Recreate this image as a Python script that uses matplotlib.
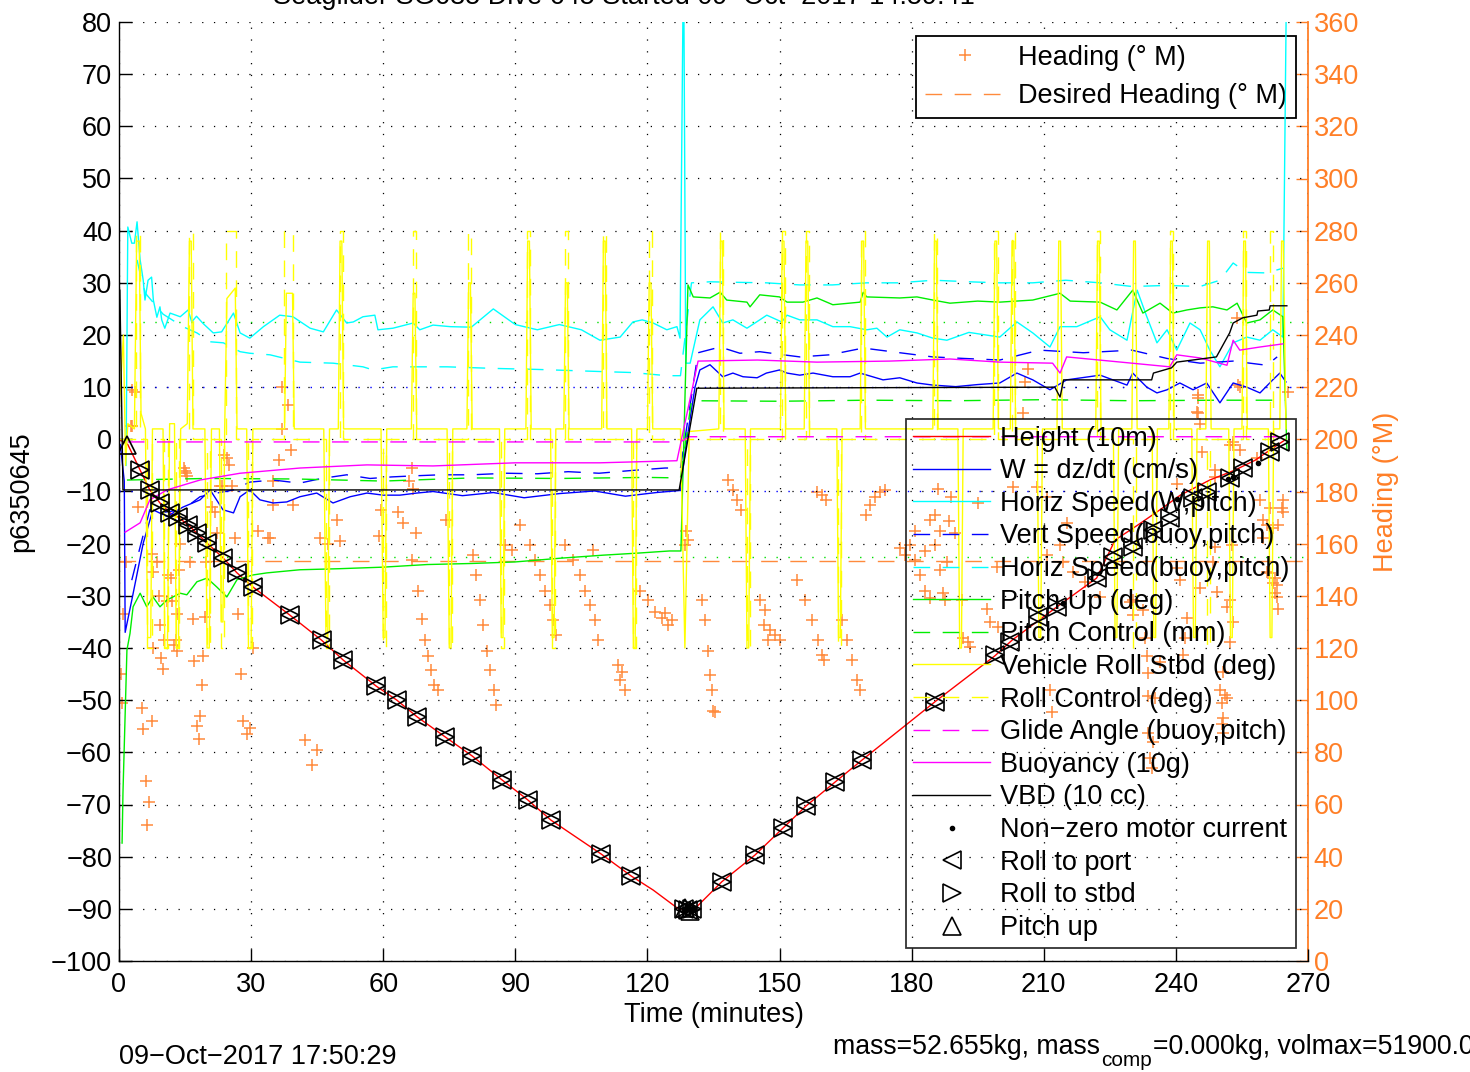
import numpy as np
import matplotlib
matplotlib.use('Agg')
import matplotlib.pyplot as plt
from matplotlib.lines import Line2D

plt.rcParams['font.family'] = ['Liberation Sans', 'DejaVu Sans']
plt.rcParams['lines.scale_dashes'] = False
FS = 19.5

# ---------------- data ----------------
height_t = [0, 1, 2, 4.8, 7.0, 9.3, 11.6, 13.4, 15.7, 17.7, 20, 23.6, 26.8, 30.4, 38.8, 46, 50.9, 58.4, 63.1,
            67.7, 74, 80.2, 87, 92.8, 98.1, 109.5, 116.3, 121.3, 126.7, 128.5, 129.5, 131.2, 136.9, 144.4,
            150.8, 156, 162.6, 168.7, 185.3, 198.9, 202.8, 213, 222, 226.2, 231.4, 236.4, 241, 247.7,
            253.4, 258, 263.2, 265]
height_v = [0, -0.5, -1, -5.9, -9.7, -12.2, -14.1, -14.9, -16.4, -18, -19.9, -22.7, -25.6, -28.3, -33.7,
            -38.5, -42.3, -47.3, -50, -53.2, -57, -60.7, -65.3, -69.1, -73, -79.5, -83.7, -86.4, -89.8,
            -90.2, -90.3, -89.6, -84.8, -79.7, -74.5, -70.3, -65.7, -61.5, -50.3, -41.5, -38.5, -32.1,
            -26.6, -19.3, -16.4, -13.5, -10.7, -7.8, -5.9, -4, -1, 0]

w_t = [0.3, 1.2, 1.4, 3.1, 5.5, 7.7, 10.9, 14.5, 18.4, 20.7, 23.6, 26, 27.5, 29.7, 32, 35, 38.1, 41.1,
       44.9, 48.6, 52.5, 56.3, 60, 63.8, 67.6, 71.3, 78, 85, 92, 100, 108, 115, 122, 127.5, 128.6,
       130.8, 131.9, 134.2, 137.1, 139.4, 141.7, 144.9, 147, 150, 151.7, 154.6, 157.6, 162.1, 166,
       168.3, 173.5, 177.3, 181.2, 184.8, 190, 195, 200, 203.9, 207.5, 211.4, 215.2, 222.8, 228.9,
       230.2, 233.4, 235.7, 238, 240.9, 243.9, 247, 250, 253, 256.1, 259.1, 262, 263.6, 265]
w_v = [-1, -8, -37, -30, -19.9, -13.5, -14.8, -13, -11.6, -9.7, -13.5, -14.1, -11, -9.7, -11.6, -12.2,
       -12, -11, -10.3, -12.2, -11, -10.3, -10.7, -10.7, -10.3, -10, -10.8, -10.2, -11.2, -10.4, -9.9,
       -10.9, -10.2, -9.8, -2, 10, 13.3, 14.3, 12, 12.7, 12, 11.8, 12.7, 13.3, 12.7, 12.3, 12.7, 12, 12,
       12.7, 11.4, 11.8, 10.8, 10.4, 10.1, 10.5, 10.8, 12.7, 11.4, 9.5, 11.4, 12.3, 10.4, 12.7, 10, 8.9,
       9.5, 10.8, 9.5, 10.8, 7, 10.8, 10, 8.9, 11.4, 12.7, 11]

hs_t = [1.6, 2.0, 2.9, 3.5, 4.1, 4.8, 5.5, 5.9, 6.6, 7.4, 7.8, 8.6, 9.3, 9.7, 10.4, 11.6, 13.9, 15.7,
        16.5, 17.6, 19.1, 21.4, 23.3, 26, 27.5, 29.7, 32.8, 36.5, 39.5, 43.4, 46.4, 49.4, 51.7, 53.2,
        55.4, 58.1, 58.8, 62.2, 66.8, 68.3, 71.3, 75.2, 80, 85, 90, 95, 100, 105, 109.2, 113.8, 116.7,
        118.8, 121.3, 124.4, 126.7, 127.4, 128.2, 128.7, 129.7, 131.9, 134.9, 137.1, 139.4, 142.6,
        145.5, 147.1, 150.5, 151.7, 154.6, 158.5, 162.1, 166, 169.8, 172.1, 174.4, 177.3, 181.2,
        184.8, 188, 193, 200, 203.9, 207.5, 211.4, 213.7, 217.5, 222.8, 225, 228.9, 231.2, 233.4,
        235.7, 238, 240.2, 243.2, 245.5, 247.7, 250, 253, 256.1, 259.1, 262, 264.3, 265.2]
hs_v = [-5, 40.7, 37.6, 37.6, 41.7, 34.4, 30.5, 26.7, 30.5, 31.1, 26.7, 23.4, 25.4, 22.9, 21.3, 24.2,
        23.5, 24.8, 22.5, 23.6, 22.2, 20.4, 20.6, 24.2, 20.4, 19.4, 21.6, 23.8, 23.5, 21.3, 20.6, 24.8,
        22.3, 22.5, 23.5, 23.8, 21, 21.3, 22.3, 21, 21.9, 21.6, 21.5, 25, 22, 21, 22, 21, 19, 19.6, 22.5,
        22.9, 22.3, 21, 21.6, 19.4, 95, 14.6, 14.6, 22.9, 25.4, 22.3, 22.9, 21.3, 22.9, 23.8, 22.5,
        23.8, 22.9, 22.9, 21.6, 21.6, 21, 21.3, 19.6, 21, 20.4, 19.4, 19, 20.5, 19.6, 22.5, 20.4, 17.7,
        21.6, 21.6, 23.5, 21, 19, 28.6, 23.5, 18.5, 21, 17.1, 22.3, 21, 17.1, 13.9, 18.5, 19.6, 19, 21,
        19.6, 95]

vsb_t = [2.9, 4.8, 7, 10, 14.5, 18.4, 22.2, 26, 29.7, 35, 41, 46, 51.7, 57, 62, 67, 72.9, 80, 88, 95,
         102, 109, 116, 124, 127.5, 131.5, 136.5, 141, 145.5, 150, 154.6, 161.4, 169, 177.3, 184.8,
         192, 200, 209, 219, 230, 238, 245.5, 253, 260.6, 263]
vsb_v = [-27, -20.6, -13.5, -14, -13.5, -11, -10.3, -9.7, -8.2, -7.8, -8.4, -7.5, -6.8, -7.5, -7.2, -7,
         -6.8, -6.8, -6.5, -6.6, -6.2, -6.5, -6, -5.5, -5.5, 16.6, 17.7, 16.5, 16.8, 16.3, 15.8, 16.2,
         17.5, 16.6, 15.8, 15.5, 15.2, 17.1, 16.6, 17.1, 15.5, 14.6, 15, 14.2, 15.8]

hsb_t = [4.1, 5, 6, 10, 14.5, 17.7, 20.7, 23.7, 27.5, 29.7, 34.3, 41.1, 48.6, 55.4, 57.7, 62.2, 67.6,
         71.3, 74.5, 85, 95, 109.2, 116.7, 124.4, 127.5, 130, 134.2, 140, 147, 154.6, 162, 169.8,
         177, 185, 193, 200, 207.5, 215, 222.8, 230, 238, 245.5, 250, 253, 256, 260.6, 264.3]
hsb_v = [34.4, 31, 28, 24, 21.6, 20.4, 18.7, 18.5, 16.8, 16.5, 16.2, 14.8, 14.6, 13.9, 13.3, 13.9, 13.9,
         13.9, 13.9, 13.6, 13.4, 13, 12.8, 12.2, 12.2, 30, 30.2, 30.1, 30, 29.6, 29.6, 30, 30, 30.5, 30.2,
         30, 30, 30.5, 30, 29.3, 29.5, 29.3, 30.5, 33.8, 32, 31.9, 32.8]

pitch_t = [0.7, 0.9, 1.8, 2.5, 3.2, 4.8, 6.3, 7.7, 9.3, 10.9, 13.9, 15.4, 17.7, 20, 22.2, 24.5, 26.8,
           30.4, 33.6, 41.1, 50, 60, 70, 80, 90, 100, 110, 118, 125, 127.6, 129.2, 130.4, 134.2, 136.5,
           138, 142.6, 143.3, 145.5, 150, 151.7, 155.3, 158.5, 162.1, 168.3, 169, 169.8, 177.3, 181.2,
           184.8, 188.7, 195, 200, 207.5, 213.7, 216, 222.8, 226.6, 230.2, 232.5, 236.4, 239.3, 242.5,
           245.5, 248.4, 251.6, 253.9, 256.1, 259.1, 262, 264.3, 265.2]
pitch_v = [-77.4, -67.8, -40.4, -37.2, -32.1, -29.5, -32.1, -30.2, -32.1, -30.8, -29.5, -29.8, -27.3,
           -26.6, -28.3, -30.2, -26.9, -26, -25.6, -25, -24.8, -24.5, -24, -23.8, -23.5, -22.8, -22.2,
           -21.8, -21.4, -21.4, 29.6, 27.3, 27.1, 28.2, 26.7, 26.3, 25.4, 27.7, 27.3, 26.3, 26.3, 27.1,
           25.8, 26.3, 28.2, 27.3, 27.1, 27.3, 26.7, 26.1, 26.5, 26.3, 26.7, 28, 26.5, 26.3, 24.8, 28.6,
           24.2, 26.1, 24.2, 24.8, 25.2, 25.4, 24.8, 26.1, 22.3, 22.9, 24.8, 23.5, -2]

pctl_t = [1.8, 20, 40, 60, 80, 100, 120, 127.5, 130, 150, 170, 190, 210, 230, 250, 265]
pctl_v = [-7.8, -7.5, -7.6, -8.0, -7.4, -7.5, -7.3, -7.4, 7.4, 7.3, 7.5, 7.4, 7.6, 7.4, 7.5, 7.5]

glide_t = [2, 127.5, 129.5, 265]
glide_v = [-0.5, -0.5, 0.5, 0.5]

buoy_t = [1.4, 4.8, 7, 10.9, 18.4, 27.5, 41.1, 56.3, 71.3, 90, 109.2, 126.7, 131.5, 145, 158.5, 175,
          188.7, 200, 212, 213.7, 215.2, 230, 238.6, 240.2, 245.5, 251.6, 253, 254.5, 259.1, 264.3]
buoy_v = [-17.8, -16, -11.6, -9.7, -7.8, -6.5, -5.5, -4.9, -5.1, -4.5, -4.5, -4.1, 15, 15.2, 14.8, 15,
          15.4, 14.8, 14.6, 12.7, 15.8, 14.6, 13.9, 16.2, 15.6, 14.2, 19, 17.1, 17.7, 18.3]

vbd_t = [0.2, 0.9, 127.2, 131.2, 212.5, 213.7, 214.5, 234.5, 234.9, 239, 240.2, 249.2, 252.2, 253,
         255.2, 258.4, 258.6, 261.2, 261.4, 265.2]
vbd_v = [28.6, -9.7, -9.7, 9.8, 10.0, 8.1, 11.4, 11.4, 12.7, 13.7, 14.8, 15.8, 20.4, 22.3, 23.3, 23.8,
         24.6, 24.8, 25.6, 25.6]

roll_t = [0, 1, 1.5, 2, 3.5, 4, 4.6, 5, 6, 6.5, 7.2, 7.6, 10, 10.4, 11, 11.5, 12.6, 13, 13.5, 14,
          15.5, 16, 16.4, 16.8, 19.5, 20, 20.5, 21, 22.8, 23.2, 23.6, 24, 24.5, 26.4, 26.8, 29, 29.4,
          30, 30.4, 37.6, 38, 39.4, 39.8, 46.5, 47, 47.4, 47.8, 49.8, 50.2, 50.6, 51, 59.5, 60, 60.4,
          60.8, 66.4, 66.8, 67.2, 67.6, 74.5, 75, 75.4, 75.8, 79, 79.4, 79.8, 80.2, 86.4, 86.8, 87.2,
          87.6, 92.4, 92.8, 93.2, 93.6, 98, 98.4, 98.8, 99.2, 101, 101.4, 101.8, 102.2, 109.6, 110,
          110.4, 110.8, 116.4, 116.8, 117.2, 117.6, 120, 120.4, 120.8, 121.2, 127.5, 128.5, 129.5,
          136.2, 136.6, 137, 137.4, 142.2, 142.6, 143, 143.4, 150.2, 150.6, 151, 151.4, 155.6, 156,
          156.4, 156.8, 163, 163.4, 163.8, 164.2, 168.3, 168.7, 169.1, 169.5, 184.8, 185.2, 185.6,
          186, 190.5, 190.9, 191.3, 191.7, 198.5, 198.9, 199.3, 199.7, 202.4, 202.8, 203.2, 203.6,
          208.5, 208.9, 209.3, 209.7, 213, 213.4, 213.8, 214.2, 221.8, 222.2, 222.6, 223, 225.8, 226.2,
          226.6, 227, 230, 230.4, 230.8, 231.2, 234.6, 235, 235.4, 235.8, 238.4, 238.8, 239.2, 239.6,
          243.6, 244, 244.4, 244.8, 246.8, 247.2, 247.6, 248, 252, 252.4, 252.8, 253.2, 255, 255.4,
          255.8, 256.2, 261, 261.4, 261.8, 262.2, 263.6, 264, 264.4, 265]
roll_v = [5, 20, -5, 3, 2, 38, 38, 5, 2, -38, -38, 2, 2, -40, -40, 3, 3, -40, -40, 2, 3, 38, 38, 2, 2,
          -40, -40, 2, 2, -35, -35, 2, 27, 29, 2, 2, -40, -40, 2, 2, 28, 28, 2, 2, -38, -38, 2, 2, 38, 38,
          2, 2, -38, -38, 2, 2, 28, 28, 2, 2, -40, -40, 2, 2, 30, 30, 2, 2, -38, -38, 2, 2, 38, 38, 2, 2,
          -38, -38, 2, 2, 30, 30, 2, 2, 38, 38, 2, 2, -40, -40, 2, 2, 30, 30, 2, 2, -40, 1.5,
          2, 38, 38, 2, 2, -40, -40, 2, 2, 38, 38, 2, 2, 38, 38, 2, 2, -38, -38, 2, 2, 38, 38, 2, 2, 38,
          38, 2, 2, -40, -40, 2, 2, 38, 38, 2, 2, 38, 38, 2, 2, -38, -38, 2, 2, 38, 38, 2, 2, 38, 38, 2,
          2, -38, -38, 2, 2, 38, 38, 2, 2, -38, -38, 2, 2, 38, 38, 2, 2, -38, -38, 2, 2, 38, 38, 2, 2,
          -38, -38, 2, 2, 38, 38, 2, 2, -38, -38, 2, 2, 38, 38, 2]

rctl_t = [0, 3.8, 3.8, 4.8, 4.8, 6.4, 6.4, 7.4, 7.4, 10.3, 10.3, 11.2, 11.2, 12.9, 12.9, 13.7, 13.7,
          15.9, 15.9, 16.7, 16.7, 19.9, 19.9, 20.7, 20.7, 23.1, 23.1, 23.8, 23.8, 24.3, 24.3, 26.5, 26.5,
          29.3, 29.3, 30.2, 30.2, 37.5, 37.5, 39.6, 39.6, 46.9, 46.9, 47.6, 47.6, 50.1, 50.1, 50.8,
          50.8, 59.9, 59.9, 60.6, 60.6, 66.7, 66.7, 67.4, 67.4, 74.9, 74.9, 75.6, 75.6, 79.3, 79.3,
          80, 80, 86.7, 86.7, 87.4, 87.4, 92.7, 92.7, 93.4, 93.4, 98.3, 98.3, 99, 99, 101.3, 101.3,
          102, 102, 109.9, 109.9, 110.6, 110.6, 116.7, 116.7, 117.4, 117.4, 120.3, 120.3, 121, 121,
          136.5, 136.5, 137.2, 137.2, 142.5, 142.5, 143.2, 143.2, 150.5, 150.5, 151.2, 151.2, 155.9,
          155.9, 156.6, 156.6, 163.3, 163.3, 164, 164, 168.6, 168.6, 169.3, 169.3, 185.1, 185.1, 185.8,
          185.8, 198.8, 198.8, 199.5, 199.5, 202.7, 202.7, 203.4, 203.4, 222.1, 222.1, 222.8, 222.8,
          230.3, 230.3, 231, 231, 238.7, 238.7, 239.4, 239.4, 247.1, 247.1, 247.8, 247.8, 255.3, 255.3,
          256, 256, 261.3, 261.3, 262, 262, 265]
rctl_v = [0, 0, 40, 40, 0, 0, -40, -40, 0, 0, -40, -40, 0, 0, -40, -40, 0, 0, 40, 40, 0, 0, -40, -40, 0,
          0, -40, -40, 0, 0, 40, 40, 0, 0, -40, -40, 0, 0, 40, 40, 0, 0, -40, -40, 0, 0, 40, 40, 0, 0,
          -40, -40, 0, 0, 40, 40, 0, 0, -40, -40, 0, 0, 40, 40, 0, 0, -40, -40, 0, 0, 40, 40, 0, 0, -40,
          -40, 0, 0, 40, 40, 0, 0, 40, 40, 0, 0, -40, -40, 0, 0, 40, 40, 0,
          0, 40, 40, 0, 0, -40, -40, 0, 0, 40, 40, 0, 0, 40, 40, 0, 0, -40, -40, 0, 0, 40, 40, 0, 0, 40,
          40, 0, 0, 40, 40, 0, 0, 40, 40, 0, 0, 40, 40, 0, 0, -40, -40, 0, 0, 40, 40, 0, 0, -40, -40, 0,
          0, 40, 40, 0, 0, 40, 40, 0, 0]

motor_t = [128.2, 128.8, 129.4, 130, 130.6, 214.4, 240.2, 251.8, 253, 258.6]
motor_v = [-90, -90.2, -90.1, -90, -89.8, -31.4, -11.5, -7.6, -7.2, -4.5]

rollev_t = [4.8, 7.0, 9.3, 11.6, 13.4, 15.7, 17.7, 20, 23.6, 26.8, 30.4, 38.8, 46, 50.9, 58.4, 63.1,
            67.7, 74, 80.2, 87, 92.8, 98.1, 109.5, 116.3, 128.2, 129.2, 130.2, 136.9, 144.4, 150.8, 156,
            162.6, 168.7, 185.3, 198.9, 202.3, 208.7, 213, 222, 225.8, 230.3, 234.8, 238.6, 243.9, 247,
            252.3, 255.2, 261.4, 263.6]
rollev_v = [-5.9, -9.7, -12.2, -14.1, -14.9, -16.4, -18, -19.9, -22.7, -25.6, -28.3, -33.7, -38.5,
            -42.3, -47.3, -50, -53.2, -57, -60.7, -65.3, -69.1, -73, -79.5, -83.7, -90, -90.2, -90,
            -84.8, -79.7, -74.5, -70.3, -65.7, -61.5, -50.3, -41.3, -38.8, -34, -32.1, -26.6, -22.5,
            -20.6, -17.4, -15.1, -11.2, -10.1, -7.4, -5.5, -2.4, -0.5]

pitchev_t = [1.8, 128.6, 129.6]
pitchev_v = [-1.0, -89.8, -90.4]

desired_heading = 153.5
hd_t = [0.45, 0.7, 0.9, 1.6, 2.7, 2.9, 2.9, 3.6, 4.3, 5.2, 5.5, 7.4, 6.1, 6.8, 6.4, 7.4, 8.6, 7.8, 9.1,
        9.3, 10.2, 7.7, 9.5, 10, 10.9, 12, 11.1, 11.8, 13, 12.5, 13.2, 13.2, 13.6, 16.1, 16.8, 19.5,
        19.1, 17, 18.8, 18.4, 17.7, 18.2, 19.7, 22.2, 21.1, 21.8, 22.9, 25.6, 15, 15.4, 23.9, 24.6, 25,
        23.3, 14.8, 15.2, 13.9, 26.3, 27, 30.5, 27.7, 28.2, 29, 29.7, 33.9, 37, 38.4, 37, 39.1, 36.3,
        35, 34.9, 39.5, 31.6, 34.3, 42.2, 43.8, 45, 49.5, 50.2, 45.7, 47.5, 59, 59.6, 63.4, 64.4, 66.5,
        65.9, 66.8, 67.4, 74.3, 66.5, 67.9, 68.8, 69.5, 70.2, 70.8, 71.5, 72.4, 80.4, 81.1, 82, 82.7,
        83.6, 84.2, 85.1, 85.6, 87.6, 89.2, 91, 93.3, 94.5, 95.6, 96.7, 97.9, 98.5, 99.2, 101.3, 103.1,
        104.7, 105.8, 106.9, 108.1, 108.8, 107.6, 113.3, 114.2, 114.9, 113.8, 118.3, 120.1, 121.7,
        123.3, 124.7, 125.6, 124, 129.2, 128.5, 128.7, 132.4, 133.1, 133.7, 134.2, 134.7, 134.9, 135.3,
        138.3, 139.4, 140.3, 141.2, 145.5, 146.7, 147.8, 149, 150.1, 146.5, 147.4, 154, 155.8, 157.4,
        158.7, 159.6, 160.1, 158.5, 159.6, 160.5, 164.2, 165.3, 166.4, 167.6, 168.3, 169.6, 170.5,
        171.7, 172.8, 173.9, 177.3, 178.5, 179.6, 180.7, 181.9, 183, 184.1, 185.3, 186.4, 187.6, 186,
        189, 185.3, 188.5, 186.4, 189.8, 180.7, 183, 188, 199.4, 184.1, 187.1, 191.4, 197.1, 197.8,
        199.6, 191.7, 192.8, 193.2, 195, 203, 208.4, 210.7, 215.3, 213.7, 210.7, 214.4, 216.6, 219.3,
        222.8, 229.6, 230.3, 233.4, 236.4, 242.5, 245.5, 248.4, 248.9, 252.3, 254.5, 258.4, 261.4,
        264.3, 260.6, 263.2, 260.6, 262, 262.9, 263.2, 253, 251.6, 252.3, 241.6, 211.4, 211.8, 233.7,
        235.2, 250, 251.6, 250.7, 250.5, 233.7, 234.8, 250.7, 234.1, 234.5, 254.5, 245, 244.8, 253,
        246, 248.9, 240.2, 259.1, 264.3, 264, 259.8, 262, 259.8, 252.7, 248.9, 240.2, 240.9, 249.3,
        252.3, 260.9, 262.5, 262.9, 262.5, 230.3, 232.5, 233, 242, 233.7, 250.7, 251.1, 250.5, 206.4,
        205.7, 205.3, 253.9, 254, 245, 245, 245.5, 253, 265.5]
hd_v = [110, 99, 133, 153, 205, 205, 219, 218, 174, 97, 89, 92, 69, 61, 52, 156, 153, 149, 140, 129,
        123, 120, 116, 112, 138, 138, 148, 147, 123, 121, 119, 133, 150, 153, 131, 132, 117, 115, 106,
        94, 90, 85, 153, 164, 174, 172, 182, 182, 188, 186, 194, 193, 190, 182, 189, 187, 160, 162, 133,
        120, 110, 92, 87, 89.5, 162, 220, 213, 204, 196, 192, 184, 175, 175, 165, 162, 84.7, 75, 81, 169,
        161, 162, 160, 163, 173, 172, 168, 189, 184, 181, 164, 169, 153.7, 142, 131, 123, 117, 111.6,
        106, 104, 155.6, 148, 138.4, 129, 119, 111.6, 104, 98, 159.5, 157.6, 167, 159.5, 153.7, 148, 142,
        136.5, 130.7, 125, 159.5, 153.7, 148, 142, 136.5, 130.7, 123, 157.6, 113.5, 110.8, 104, 107.7,
        142, 138.4, 133.8, 131.5, 128.8, 130.7, 133.4, 161.4, 159.5, 165, 138.4, 130.7, 119, 109.6, 104,
        96, 95.5, 184.4, 180.6, 176.7, 173, 138.4, 134.6, 127, 125, 123, 128.8, 123, 146, 138.4, 130.7,
        123, 117.3, 115.4, 179.8, 178.7, 176.7, 130.7, 123, 115.4, 107.7, 104, 171, 174.8, 177.9, 179.8,
        180.6, 158.3, 155.6, 159.5, 153.7, 148, 142, 169, 159.5, 150, 138.4, 181, 178, 171, 168.6, 165,
        164, 165, 157, 153, 151, 139, 141, 138.4, 135, 130, 128, 124, 122.3, 120.4, 175.6, 181.6, 181.9,
        178, 168, 159.5, 155.6, 153, 149, 145.3, 139.6, 137.6, 132.5, 117, 114.6, 131.5, 143, 153,
        185.6, 198, 196, 193, 173.7, 172, 167, 167, 149, 145, 139.6, 135, 130, 135.7, 122.3, 117.3, 104,
        95.5, 101.6, 101, 104, 101, 93, 91, 87.4, 84, 87.4, 78, 74, 220, 217, 210.5, 199, 195, 188.2,
        183, 176.7, 176.7, 173.7, 169, 166, 162, 159.5, 158.7, 150.6, 146, 141.5, 138.4, 148.8, 146.8,
        144, 141, 138.4, 134.6, 124, 124, 110.4, 110.8, 102, 99, 227, 222, 210, 246.5, 221, 216, 210,
        206, 198, 218]

labels_main = ['Height (10m)', 'W = dz/dt (cm/s)', 'Horiz Speed(W,pitch)', 'Vert Speed(buoy,pitch)',
               'Horiz Speed(buoy,pitch)', 'Pitch Up (deg)', 'Pitch Control (mm)',
               'Vehicle Roll Stbd (deg)', 'Roll Control (deg)', 'Glide Angle (buoy,pitch)',
               'Buoyancy (10g)', 'VBD (10 cc)', 'Non\u2212zero motor current', 'Roll to port',
               'Roll to stbd', 'Pitch up']
labels_head = ['Heading (\u00b0 M)', 'Desired Heading (\u00b0 M)']

xticks = list(range(0, 271, 30))
yticks = list(range(-100, 81, 10))
hticks = list(range(0, 361, 20))

# ---------------- figure ----------------
ORANGE = '#FF7F27'
HEADC = '#FF8A3C'
DASH = (0, (12, 9))

fig = plt.figure(figsize=(14.7, 10.72), dpi=100)
rect = [119 / 1470, 1 - 961 / 1072, (1308 - 119) / 1470, (961 - 22) / 1072]
ax = fig.add_axes(rect)
ax2 = ax.twinx()
ax.set_zorder(ax2.get_zorder() + 1)
ax.patch.set_visible(False)

lw = 1.0
# heading on right axis
ax2.plot(hd_t, hd_v, linestyle='none', marker='+', ms=9, mew=1.1, color=HEADC)
ax2.plot([0, 270], [desired_heading, desired_heading], color=HEADC, lw=lw, linestyle=DASH)
ax2.set_ylim(0, 360)
ax2.set_yticks(hticks)
ax2.tick_params(axis='y', colors=ORANGE, direction='in', length=9, width=1, labelsize=FS, pad=4)
for s in ['top', 'left', 'bottom']:
    ax2.spines[s].set_visible(False)
ax2.spines['right'].set_color(ORANGE)
ax2.spines['right'].set_linewidth(1.3)
ax2.set_ylabel('Heading (\u00b0M)', color=ORANGE, fontsize=FS, labelpad=10)

# reference lines
ax.axhline(10, color='blue', lw=1.0, linestyle=(0, (1, 7.6)), zorder=1)
ax.axhline(-10, color='blue', lw=1.0, linestyle=(0, (1, 7.6)), zorder=1)
ax.axhline(22.5, color='#00DD00', lw=1.0, linestyle=(0, (1, 7.6)), zorder=1)
ax.axhline(-22.5, color='#00DD00', lw=1.0, linestyle=(0, (1, 7.6)), zorder=1)

h = []
h.append(ax.plot(height_t, height_v, color='red', lw=lw)[0])
h.append(ax.plot(w_t, w_v, color='blue', lw=lw)[0])
h.append(ax.plot(hs_t, hs_v, color='cyan', lw=lw)[0])
h.append(ax.plot(vsb_t, vsb_v, color='blue', lw=lw, linestyle=DASH)[0])
h.append(ax.plot(hsb_t, hsb_v, color='cyan', lw=lw, linestyle=DASH)[0])
h.append(ax.plot(pitch_t, pitch_v, color='#00EE00', lw=lw)[0])
h.append(ax.plot(pctl_t, pctl_v, color='#00EE00', lw=lw, linestyle=DASH)[0])
h.append(ax.plot(roll_t, roll_v, color='yellow', lw=lw)[0])
h.append(ax.plot(rctl_t, rctl_v, color='yellow', lw=lw, linestyle=DASH)[0])
h.append(ax.plot(glide_t, glide_v, color='magenta', lw=lw, linestyle=DASH)[0])
h.append(ax.plot(buoy_t, buoy_v, color='magenta', lw=lw)[0])
h.append(ax.plot(vbd_t, vbd_v, color='black', lw=lw)[0])
h.append(ax.plot(motor_t, motor_v, linestyle='none', marker='.', ms=6, color='black')[0])
h.append(ax.plot(rollev_t, rollev_v, linestyle='none', marker='<', ms=13, mfc='none', mec='black',
                 mew=1.2)[0])
h.append(ax.plot(rollev_t, rollev_v, linestyle='none', marker='>', ms=13, mfc='none', mec='black',
                 mew=1.2)[0])
h.append(ax.plot(pitchev_t, pitchev_v, linestyle='none', marker='^', ms=13, mfc='none', mec='black',
                 mew=1.2)[0])

ax.set_xlim(0, 270)
ax.set_ylim(-100, 80)
ax.set_xticks(xticks)
ax.set_yticks(yticks)
ax.tick_params(direction='in', length=9, width=1, labelsize=FS, colors='black')
ax.tick_params(axis='x', pad=8)
ax.tick_params(axis='y', pad=5)
ax.spines['top'].set_visible(False)
ax.spines['right'].set_visible(False)
ax.spines['left'].set_linewidth(1.0)
ax.spines['bottom'].set_linewidth(1.0)
ax.set_axisbelow(True)
ax.grid(True, color='black', lw=0.9, linestyle=(0, (0.9, 7.6)))
ax.set_xlabel('Time (minutes)', fontsize=FS, labelpad=3)
ax.set_ylabel('p6350645', fontsize=FS, labelpad=12)

# legends
hh = [Line2D([], [], linestyle='none', marker='+', ms=9, mew=1.1, color=HEADC),
      Line2D([], [], color=HEADC, lw=lw, linestyle=DASH)]
leg1 = ax.legend(hh, labels_head, loc='upper right', bbox_to_anchor=(0.9899, 0.9851),
                 fontsize=FS, frameon=True, fancybox=False, edgecolor='black', facecolor='white',
                 framealpha=1, borderaxespad=0, handlelength=2.95, handletextpad=0.5,
                 labelspacing=0.45, borderpad=0.33)
leg1.get_frame().set_linewidth(1.3)
leg1.set_zorder(1.2)
ax.add_artist(leg1)

leg2 = ax.legend(h, labels_main, loc='upper right', bbox_to_anchor=(0.9899, 0.5772),
                 fontsize=FS, frameon=True, fancybox=False, edgecolor='black', facecolor='none',
                 framealpha=None, borderaxespad=0, handlelength=2.85, handletextpad=0.37,
                 labelspacing=0.245, borderpad=0.24)
leg2.get_frame().set_linewidth(1.3)

# texts
fig.text(273 / 1470, 1 - 4 / 1072, 'Seaglider SG635 Dive 645 Started 09\u2212Oct\u22122017 14:59:41',
         fontsize=FS, va='baseline', ha='left')
fig.text(119 / 1470, 1 - 1064 / 1072, '09\u2212Oct\u22122017 17:50:29', fontsize=FS, va='baseline')

r = fig.canvas.get_renderer()
FM = 19.2
yb = 1 - 1054 / 1072
t1 = fig.text(833 / 1470, yb, 'mass=52.655kg, mass', fontsize=FM, va='baseline')
bb1 = t1.get_window_extent(r)
t2 = fig.text(bb1.x1 / fig.bbox.width + 1 / 1470, yb - 12 / 1072, 'comp', fontsize=FM * 0.78,
              va='baseline')
bb2 = t2.get_window_extent(r)
fig.text(bb2.x1 / fig.bbox.width + 1 / 1470, yb, '=0.000kg, volmax=51900.0cc', fontsize=FM,
         va='baseline')

fig.savefig('out.png', dpi=100)
